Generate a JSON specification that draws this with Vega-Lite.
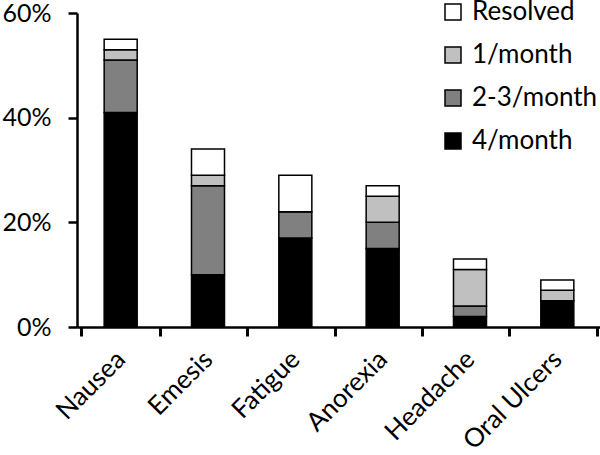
{
  "$schema": "https://vega.github.io/schema/vega-lite/v6.json",
  "width": 524,
  "height": 314,
  "autosize": {"type": "none"},
  "padding": {"left": 77, "top": 13, "right": 0, "bottom": 128},
  "background": "white",
  "config": {
    "view": {"stroke": null},
    "font": "Lato",
    "axis": {"labelFont": "Lato", "labelColor": "black", "domainColor": "black", "tickColor": "black", "grid": false, "title": null}
  },
  "data": {
    "values": [
      {"symptom": "Nausea", "freq": "4/month", "rank": 1, "pct": 41},
      {"symptom": "Nausea", "freq": "2-3/month", "rank": 2, "pct": 10},
      {"symptom": "Nausea", "freq": "1/month", "rank": 3, "pct": 2},
      {"symptom": "Nausea", "freq": "Resolved", "rank": 4, "pct": 2},
      {"symptom": "Emesis", "freq": "4/month", "rank": 1, "pct": 10},
      {"symptom": "Emesis", "freq": "2-3/month", "rank": 2, "pct": 17},
      {"symptom": "Emesis", "freq": "1/month", "rank": 3, "pct": 2},
      {"symptom": "Emesis", "freq": "Resolved", "rank": 4, "pct": 5},
      {"symptom": "Fatigue", "freq": "4/month", "rank": 1, "pct": 17},
      {"symptom": "Fatigue", "freq": "2-3/month", "rank": 2, "pct": 5},
      {"symptom": "Fatigue", "freq": "1/month", "rank": 3, "pct": 0},
      {"symptom": "Fatigue", "freq": "Resolved", "rank": 4, "pct": 7},
      {"symptom": "Anorexia", "freq": "4/month", "rank": 1, "pct": 15},
      {"symptom": "Anorexia", "freq": "2-3/month", "rank": 2, "pct": 5},
      {"symptom": "Anorexia", "freq": "1/month", "rank": 3, "pct": 5},
      {"symptom": "Anorexia", "freq": "Resolved", "rank": 4, "pct": 2},
      {"symptom": "Headache", "freq": "4/month", "rank": 1, "pct": 2},
      {"symptom": "Headache", "freq": "2-3/month", "rank": 2, "pct": 2},
      {"symptom": "Headache", "freq": "1/month", "rank": 3, "pct": 7},
      {"symptom": "Headache", "freq": "Resolved", "rank": 4, "pct": 2},
      {"symptom": "Oral Ulcers", "freq": "4/month", "rank": 1, "pct": 5},
      {"symptom": "Oral Ulcers", "freq": "2-3/month", "rank": 2, "pct": 0},
      {"symptom": "Oral Ulcers", "freq": "1/month", "rank": 3, "pct": 2},
      {"symptom": "Oral Ulcers", "freq": "Resolved", "rank": 4, "pct": 2}
    ]
  },
  "mark": {"type": "bar", "width": {"band": 0.42}, "stroke": "black", "strokeWidth": 1.5},
  "encoding": {
    "x": {
      "field": "symptom", "type": "nominal", "sort": null,
      "axis": {"ticks": true, "tickBand": "extent", "tickExtra": true, "tickColor": "black", "domainWidth": 2.5, "tickWidth": 3, "tickSize": 9, "labelAngle": -45, "labelAlign": "right", "labelBaseline": "middle", "labelFontSize": 26, "labelPadding": 19, "labelDx": -3}
    },
    "y": {
      "field": "pct", "type": "quantitative", "stack": "zero",
      "scale": {"domain": [0, 60]},
      "axis": {"values": [0, 20, 40, 60], "labelExpr": "datum.value + '%'", "labelFontSize": 25, "labelPadding": 17, "tickSize": 9, "tickWidth": 2.5, "domainWidth": 2.5}
    },
    "color": {
      "field": "freq", "type": "nominal",
      "scale": {"domain": ["Resolved", "1/month", "2-3/month", "4/month"], "range": ["#ffffff", "#c0c0c0", "#808080", "#000000"]},
      "legend": {
        "title": null, "orient": "none", "legendX": 363, "legendY": -14, "padding": 0,
        "symbolType": "square", "symbolSize": 256, "symbolStrokeColor": "black", "symbolStrokeWidth": 1.5,
        "labelFontSize": 26, "labelFont": "Lato", "labelColor": "black", "rowPadding": 17, "labelOffset": 6
      }
    },
    "order": {"field": "rank", "type": "quantitative"}
  }
}
